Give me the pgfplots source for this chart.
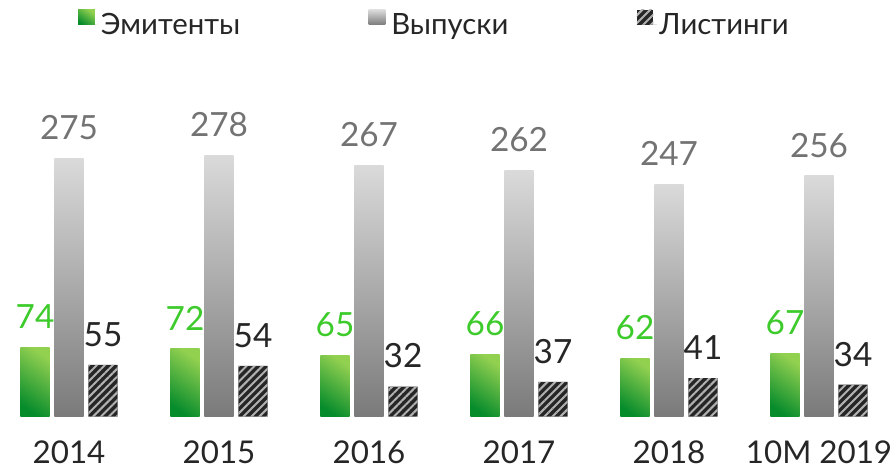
\documentclass[border=0pt]{standalone}
\usepackage{fontspec}
\setmainfont{Lato}
\usepackage{pgfplots}
\pgfplotsset{compat=1.18}
\usetikzlibrary{patterns.meta}

\definecolor{lblgreen}{HTML}{3DCB2B}
\definecolor{lblgray}{HTML}{737373}
\definecolor{lbldark}{HTML}{262626}
\definecolor{gtop}{HTML}{92D050}
\definecolor{gmid}{HTML}{00B050}
\definecolor{gbot}{HTML}{078C2C}
\definecolor{stop}{HTML}{DADADA}
\definecolor{sbot}{HTML}{7A7A7A}
\definecolor{hatch}{HTML}{262626}

% 1px of the reference = 0.75pt
\pgfplotsset{
  emst/.style={draw=none, bar shift=-25.5pt,
    top color=gtop, middle color=gmid, bottom color=gbot, shading angle=-35,
    every node near coord/.append style={text=lblgreen}},
  vyst/.style={draw=none, bar shift=0pt,
    top color=stop, bottom color=sbot,
    every node near coord/.append style={text=lblgray}},
}

\begin{document}
\begin{tikzpicture}
\useasboundingbox (0,0) rectangle (668.25pt,352.5pt);
\begin{axis}[
  scale only axis,
  width=668.25pt, height=352.5pt,
  xmin=-0.46, xmax=5.48,
  ymin=-56.7, ymax=443,
  axis x line=bottom, axis y line=none,
  axis line style={draw=none}, major tick length=0pt,
  ytick=\empty,
  ybar, bar width=22.1pt,
  xtick={0,...,5},
  xticklabels={2014,2015,2016,2017,2018,10M 2019},
  xticklabel style={anchor=base, inner sep=0pt, yshift=4.5pt, font=\fontsize{23.5}{23.5}\selectfont, text=lbldark},
  /pgf/number format/assume math mode=true,
  nodes near coords,
  every node near coord/.append style={anchor=base, yshift=14pt, font=\fontsize{25}{25}\selectfont},
  legend columns=3,
  legend style={at={(axis description cs:0.083,0.985)}, anchor=north west,
    draw=none, fill=none, font=\fontsize{22}{22}\selectfont, text=lbldark,
    /tikz/every even column/.append style={column sep=94.3pt}},
  legend image code/.code={\path[#1] (0pt,0pt) rectangle (12.5pt,11.25pt); \path (0pt,0pt) -- (15pt,0pt);},
]
% Emitters
\addplot[emst] coordinates {(0,74)};
\addplot[emst, forget plot] coordinates {(1,72)};
\addplot[emst, forget plot] coordinates {(2,65)};
\addplot[emst, forget plot] coordinates {(3,66)};
\addplot[emst, forget plot] coordinates {(4,62)};
\addplot[emst, forget plot] coordinates {(5,67)};
% Issues
\addplot[vyst] coordinates {(0,275)};
\addplot[vyst, forget plot] coordinates {(1,278)};
\addplot[vyst, forget plot] coordinates {(2,267)};
\addplot[vyst, forget plot] coordinates {(3,262)};
\addplot[vyst, forget plot] coordinates {(4,247)};
\addplot[vyst, forget plot] coordinates {(5,256)};
% Listings
\addplot[draw=none, bar shift=25.5pt, fill=hatch,
  postaction={pattern={Lines[angle=45, distance=4.2pt, line width=1.5pt]}, pattern color=white!70!black},
  every node near coord/.append style={text=lbldark}]
  coordinates {(0,55) (1,54) (2,32) (3,37) (4,41) (5,34)};
\legend{Эмитенты, Выпуски, Листинги}
\end{axis}
\end{tikzpicture}
\end{document}
